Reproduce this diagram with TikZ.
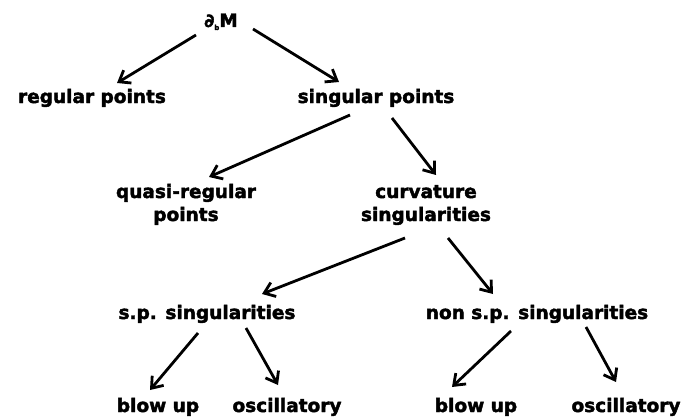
\documentclass[tikz,border=0pt]{standalone}
\usepackage{fontspec}
\setmainfont{DejaVu Sans}[BoldFont={DejaVu Sans Bold},BoldFeatures={FakeBold=2.2}]
\usetikzlibrary{arrows.meta}
\begin{document}
\begin{tikzpicture}[x=1pt,y=1pt,
  lbl/.style={anchor=base,inner sep=0pt,align=center,
    font=\fontsize{18.5}{23}\selectfont\bfseries},
  arr/.style={line width=2.8pt,-{Straight Barb[length=10pt,width=15pt,line width=2.8pt]}}]
\useasboundingbox (0,0) rectangle (690,-417);
\node[lbl] (dM) at (221,-27) {\char"2202\raisebox{-3pt}{\fontsize{7}{7}\selectfont b}M};
\node[lbl] (reg) at (92,-103) {regular points};
\node[lbl] (sing) at (376,-103) {singular points};
\node[lbl] (quasi) at (186,-221) {quasi-regular\\points};
\node[lbl] (curv) at (426,-221) {curvature\\singularities};
\node[lbl] (sp) at (207,-319) {s.p. singularities};
\node[lbl] (nsp) at (537,-319) {non s.p. singularities};
\node[lbl] (b1) at (158,-412) {blow up};
\node[lbl] (o1) at (287,-412) {oscillatory};
\node[lbl] (b2) at (476,-412) {blow up};
\node[lbl] (o2) at (626,-412) {oscillatory};
\draw[arr] ([xshift=-25pt,yshift=-8pt]dM.base) -- ([xshift=25pt,yshift=20pt]reg.base);
\draw[arr] ([xshift=32pt,yshift=-2pt]dM.base) -- ([xshift=-37pt,yshift=21pt]sing.base);
\draw[arr] ([xshift=-26pt,yshift=-12pt]sing.base) -- ([xshift=23pt,yshift=44pt]quasi.base);
\draw[arr] ([xshift=16pt,yshift=-15pt]sing.base) -- ([xshift=10pt,yshift=46pt]curv.base);
\draw[arr] ([xshift=-21pt,yshift=-17pt]curv.base) -- ([xshift=55pt,yshift=25pt]sp.base);
\draw[arr] ([xshift=22pt,yshift=-17pt]curv.base) -- ([xshift=-44pt,yshift=25pt]nsp.base);
\draw[arr] ([xshift=-9pt,yshift=-14pt]sp.base) -- ([xshift=-8pt,yshift=22pt]b1.base);
\draw[arr] ([xshift=39pt,yshift=-9pt]sp.base) -- ([xshift=-9pt,yshift=27pt]o1.base);
\draw[arr] ([xshift=-26pt,yshift=-12pt]nsp.base) -- ([xshift=-24pt,yshift=25pt]b2.base);
\draw[arr] ([xshift=49pt,yshift=-8pt]nsp.base) -- ([xshift=-10pt,yshift=30pt]o2.base);
\end{tikzpicture}
\end{document}
